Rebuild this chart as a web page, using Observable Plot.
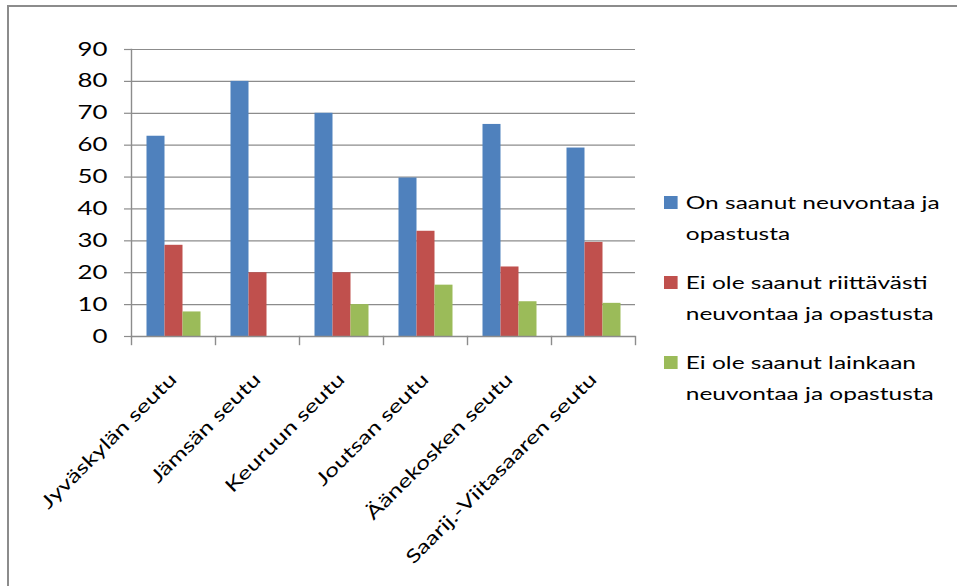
<!DOCTYPE html>
<html>
<head>
<meta charset="utf-8">
<script src="https://cdn.jsdelivr.net/npm/d3@7"></script>
<script src="https://cdn.jsdelivr.net/npm/@observablehq/plot@0.6"></script>
<style>
  html, body { margin: 0; padding: 0; background: #fff; }
  #wrap { position: relative; width: 957px; height: 586px; overflow: hidden; font-family: Lato, "Open Sans", sans-serif; }
  #border { position: absolute; left: 7px; top: 5px; right: -10px; bottom: -10px; border-left: 2px solid #8c8c8c; border-top: 2px solid #8c8c8c; }
  #chart { position: absolute; left: 0; top: 0; }
  #legend { position: absolute; left: 664px; top: 187px; transform: scaleX(1.36); transform-origin: 0 0; }
  .item { position: relative; padding-left: 16px; font-size: 18px; line-height: 31px; color: #000; margin-bottom: 18px; white-space: nowrap; }
  .sw { position: absolute; left: 0; top: 9px; width: 10px; height: 13px; }
</style>
</head>
<body>
<div id="wrap">
  <div id="border"></div>
  <div id="chart"></div>
  <div id="legend"></div>
</div>
<script>
const categories = ["Jyväskylän seutu", "Jämsän seutu", "Keuruun seutu", "Joutsan seutu", "Äänekosken seutu", "Saarij.-Viitasaaren seutu"];
const seriesNames = ["On saanut neuvontaa ja opastusta", "Ei ole saanut riittävästi neuvontaa ja opastusta", "Ei ole saanut lainkaan neuvontaa ja opastusta"];
const legendLines = [["On saanut neuvontaa ja", "opastusta"], ["Ei ole saanut riittävästi", "neuvontaa ja opastusta"], ["Ei ole saanut lainkaan", "neuvontaa ja opastusta"]];
const onSaanut = [62.8, 80, 70, 49.7, 66.5, 59.1];
const eiRiittavasti = [28.6, 20, 20, 33.0, 21.8, 29.5];
const eiLainkaan = [7.7, 0, 10, 16.1, 10.9, 10.4];
const yTicks = [0, 10, 20, 30, 40, 50, 60, 70, 80, 90];
const colors = ["#4F81BD", "#C0504D", "#9BBB59"];

const seriesValues = [onSaanut, eiRiittavasti, eiLainkaan];
const data = [];
categories.forEach((c, i) => {
  seriesNames.forEach((s, j) => {
    data.push({cat: c, series: s, value: seriesValues[j][i]});
  });
});

const chart = Plot.plot({
  width: 660,
  height: 586,
  marginLeft: 129.5,
  marginRight: 23,
  marginTop: 49,
  marginBottom: 250,
  style: {fontFamily: "Lato, 'Open Sans', sans-serif", color: "#000", background: "transparent"},
  fx: {domain: categories, padding: 0},
  x: {domain: seriesNames, paddingInner: 0, paddingOuter: 0.72, axis: null},
  y: {domain: [0, 90]},
  color: {domain: seriesNames, range: colors},
  marks: [
    Plot.gridY(yTicks, {stroke: "#8c8c8c", strokeOpacity: 1, strokeWidth: 1.2}),
    Plot.barY(data, {fx: "cat", x: "series", y: "value", fill: "series"}),
    Plot.ruleY([0], {stroke: "#8c8c8c", strokeWidth: 1.4}),
    Plot.frame({anchor: "left", stroke: "#8c8c8c", strokeWidth: 1.4, facetAnchor: "left"}),
    Plot.frame({anchor: "left", stroke: "#8c8c8c", strokeWidth: 1.4, insetTop: 287, insetBottom: -8}),
    Plot.frame({anchor: "right", stroke: "#8c8c8c", strokeWidth: 1.4, insetTop: 287, insetBottom: -8, facetAnchor: "right"}),
    Plot.axisY(yTicks, {anchor: "left", tickSize: 7, tickPadding: 17, stroke: "#8c8c8c", strokeWidth: 1.2, fontSize: 19, label: null}),
    Plot.axisFx({anchor: "bottom", tickSize: 0, tickRotate: -45, tickPadding: 40, fontSize: 18.5, label: null})
  ]
});
document.getElementById("chart").appendChild(chart);

// Text in the reference is rendered wide; widen glyphs along the text direction.
function widen(selection, k) {
  selection.each(function () {
    const L = this.getComputedTextLength();
    if (L > 0) {
      this.setAttribute("textLength", L * k);
      this.setAttribute("lengthAdjust", "spacingAndGlyphs");
    }
  });
}
widen(d3.select(chart).selectAll("g[aria-label='y-axis tick label'] text"), 1.36);
widen(d3.select(chart).selectAll("g[aria-label='fx-axis tick label'] text"), 1.34);

const legend = document.getElementById("legend");
legendLines.forEach((lines, i) => {
  const item = document.createElement("div");
  item.className = "item";
  const sw = document.createElement("div");
  sw.className = "sw";
  sw.style.background = colors[i];
  item.appendChild(sw);
  lines.forEach((l, k) => {
    if (k) item.appendChild(document.createElement("br"));
    item.appendChild(document.createTextNode(l));
  });
  legend.appendChild(item);
});
</script>
</body>
</html>
